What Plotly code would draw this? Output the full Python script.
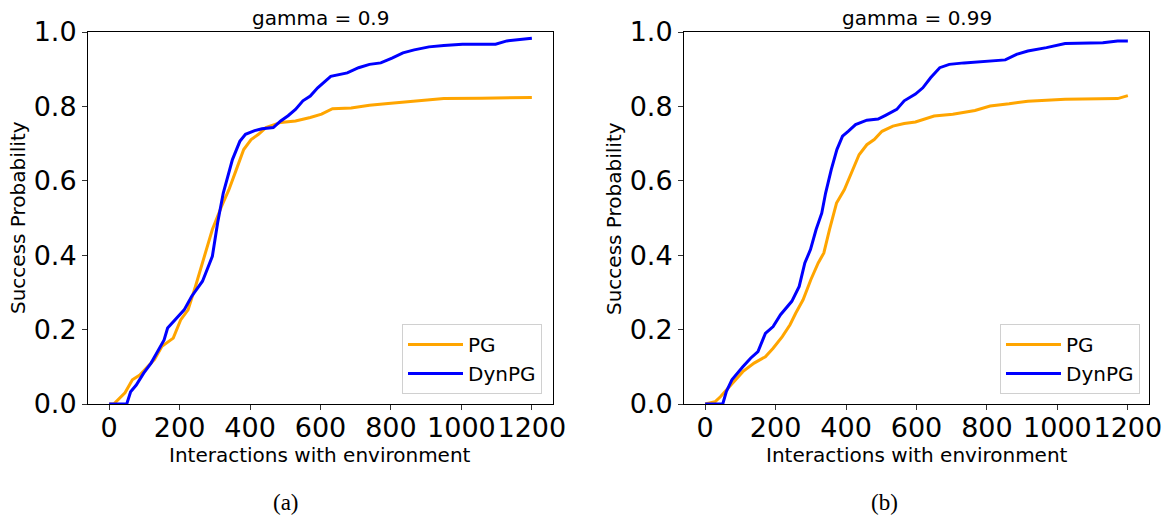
import plotly.graph_objects as go

# ---------------- data ----------------
# gamma = 0.9
a_pg_x = [0, 13, 45, 66, 87, 108, 129, 150, 182, 203, 224, 245, 272, 293, 319, 340, 361, 382, 403,
          424, 445, 487, 529, 571, 603, 634, 687, 739, 792, 845, 897, 950, 1055, 1200]
a_pg_y = [0, 0.0, 0.03, 0.065, 0.078, 0.10, 0.12, 0.155, 0.177, 0.226, 0.253, 0.316, 0.406, 0.469,
          0.531, 0.576, 0.63, 0.684, 0.711, 0.725, 0.743, 0.757, 0.761, 0.77, 0.779, 0.794, 0.796,
          0.803, 0.808, 0.812, 0.817, 0.821, 0.822, 0.824]
a_dyn_x = [0, 50, 61, 77, 98, 119, 140, 156, 166, 187, 213, 234, 265, 293, 308, 324, 350, 371, 387,
           413, 434, 466, 487, 508, 529, 550, 571, 592, 629, 676, 708, 739, 771, 803, 834, 866, 908,
           950, 1003, 1097, 1129, 1200]
a_dyn_y = [0, 0, 0.033, 0.051, 0.083, 0.11, 0.145, 0.172, 0.204, 0.226, 0.253, 0.289, 0.33, 0.397,
           0.487, 0.567, 0.657, 0.706, 0.725, 0.735, 0.74, 0.743, 0.761, 0.775, 0.792, 0.815, 0.828,
           0.85, 0.881, 0.89, 0.904, 0.913, 0.917, 0.93, 0.944, 0.952, 0.96, 0.964, 0.967, 0.967,
           0.976, 0.983]
# gamma = 0.99
b_pg_x = [0, 28, 44, 65, 86, 107, 139, 171, 193, 219, 241, 257, 278, 300, 321, 337, 353, 373, 395,
          416, 437, 459, 480, 502, 533, 565, 597, 650, 703, 766, 809, 863, 916, 1022, 1129, 1171, 1200]
b_pg_y = [0, 0.006, 0.02, 0.042, 0.065, 0.087, 0.11, 0.127, 0.15, 0.181, 0.213, 0.244, 0.28, 0.334,
          0.379, 0.406, 0.469, 0.54, 0.576, 0.621, 0.67, 0.697, 0.711, 0.733, 0.747, 0.754, 0.758,
          0.774, 0.779, 0.789, 0.801, 0.807, 0.814, 0.819, 0.821, 0.821, 0.829]
b_dyn_x = [0, 50, 60, 76, 107, 129, 150, 171, 193, 214, 246, 267, 283, 299, 315, 331, 342, 358, 374,
           390, 406, 427, 459, 491, 512, 544, 565, 597, 618, 640, 666, 693, 735, 809, 852, 884, 916,
           969, 1022, 1129, 1171, 1200]
b_dyn_y = [0, 0, 0.033, 0.065, 0.10, 0.123, 0.141, 0.19, 0.208, 0.24, 0.276, 0.316, 0.379, 0.415,
           0.469, 0.513, 0.567, 0.63, 0.684, 0.72, 0.733, 0.751, 0.763, 0.766, 0.776, 0.792, 0.815,
           0.833, 0.85, 0.877, 0.904, 0.913, 0.917, 0.921, 0.925, 0.94, 0.949, 0.958, 0.969, 0.971,
           0.976, 0.976]

titles = ["gamma = 0.9", "gamma = 0.99"]
captions = ["(a)", "(b)"]
series_names = ["PG", "DynPG"]
x_ticks = [0, 200, 400, 600, 800, 1000, 1200]
y_ticks = [0.0, 0.2, 0.4, 0.6, 0.8, 1.0]
x_label = "Interactions with environment"
y_label = "Success Probability"

# ---------------- layout helpers ----------------
W, H = 1165, 518
ORANGE = "#FFA500"
BLUE = "#0000FF"
FONT = "DejaVu Sans"


def px(x):
    return x / W


def py(y):
    return 1 - y / H


fig = go.Figure()

panels = [
    (a_pg_x, a_pg_y, a_dyn_x, a_dyn_y, "x", "y", "legend"),
    (b_pg_x, b_pg_y, b_dyn_x, b_dyn_y, "x2", "y2", "legend2"),
]
for pgx, pgy, dx, dy, xa, ya, lg in panels:
    fig.add_trace(go.Scatter(x=pgx, y=pgy, mode="lines", name=series_names[0],
                             line=dict(color=ORANGE, width=3), xaxis=xa, yaxis=ya, legend=lg))
    fig.add_trace(go.Scatter(x=dx, y=dy, mode="lines", name=series_names[1],
                             line=dict(color=BLUE, width=3), xaxis=xa, yaxis=ya, legend=lg))

x_domains = [(88, 553), (684, 1149)]
y_top, y_bot = 32, 404

axis_common = dict(showgrid=False, zeroline=False, showline=True, mirror=True,
                   linecolor="black", linewidth=1, ticks="outside", ticklen=5,
                   tickwidth=1, tickcolor="#333333", automargin=False,
                   tickfont=dict(family=FONT, size=27, color="black"))

legend_common = dict(xanchor="right", yanchor="bottom", bgcolor="white",
                     bordercolor="#d0d0d0", borderwidth=1, itemwidth=55,
                     font=dict(family=FONT, size=20, color="black"))

fig.update_layout(
    width=W, height=H, autosize=False,
    margin=dict(l=0, r=0, t=0, b=0, pad=0, autoexpand=False),
    paper_bgcolor="white", plot_bgcolor="white",
    font=dict(family=FONT, color="black"),
    xaxis=dict(domain=[px(x_domains[0][0]), px(x_domains[0][1])], range=[-60, 1260],
               tickvals=x_ticks, tickangle=0, anchor="y", ticklabelstandoff=-5, **axis_common),
    yaxis=dict(domain=[py(y_bot), py(y_top)], range=[0, 1], tickvals=y_ticks,
               tickformat=".1f", anchor="x", **axis_common),
    xaxis2=dict(domain=[px(x_domains[1][0]), px(x_domains[1][1])], range=[-60, 1260],
                tickvals=x_ticks, tickangle=0, anchor="y2", ticklabelstandoff=-5, **axis_common),
    yaxis2=dict(domain=[py(y_bot), py(y_top)], range=[0, 1], tickvals=y_ticks,
                tickformat=".1f", anchor="x2", **axis_common),
    legend=dict(x=px(542), y=py(394), **legend_common),
    legend2=dict(x=px(1140), y=py(394), **legend_common),
    showlegend=True,
)

annotations = []
for i, (x0, x1) in enumerate(x_domains):
    cx = (x0 + x1) / 2
    annotations.append(dict(text=titles[i], x=px(cx), y=py(18), xref="paper", yref="paper",
                            xanchor="center", yanchor="middle", showarrow=False,
                            font=dict(family=FONT, size=20, color="black")))
    annotations.append(dict(text=x_label, x=px(cx), y=py(455), xref="paper", yref="paper",
                            xanchor="center", yanchor="middle", showarrow=False,
                            font=dict(family=FONT, size=20, color="black")))
    annotations.append(dict(text=y_label, x=px(x0 - 70), y=py((y_top + y_bot) / 2),
                            xref="paper", yref="paper", xanchor="center", yanchor="middle",
                            textangle=-90, showarrow=False,
                            font=dict(family=FONT, size=20, color="black")))
cap_x = [286, 884]
for i in range(2):
    annotations.append(dict(text=captions[i], x=px(cap_x[i]), y=py(502), xref="paper",
                            yref="paper", xanchor="center", yanchor="middle", showarrow=False,
                            font=dict(family="Liberation Serif", size=23, color="black")))
fig.update_layout(annotations=annotations)

fig.write_html("out.html", config={"responsive": False})
